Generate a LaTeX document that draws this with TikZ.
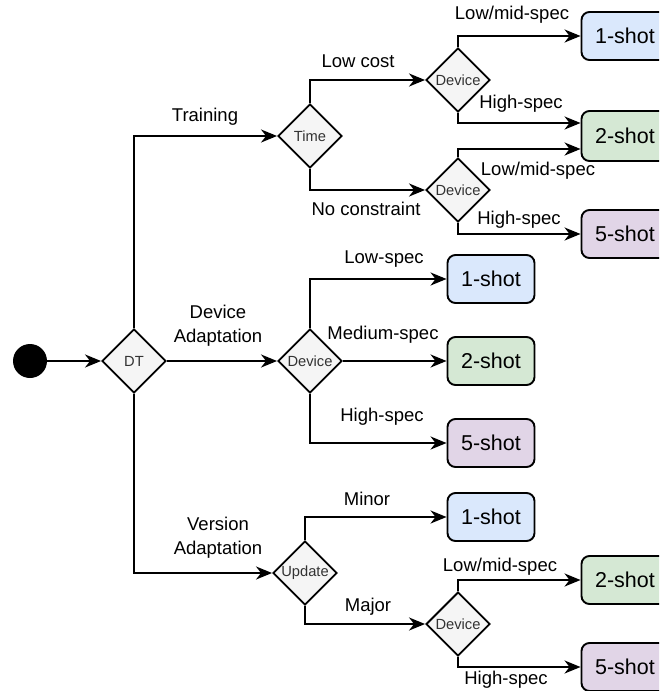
\documentclass[tikz,border=0pt]{standalone}
\usepackage{fontspec}
\setmainfont{Liberation Sans}
\usetikzlibrary{shapes.geometric,arrows.meta}
\definecolor{cblue}{HTML}{DAE8FC}
\definecolor{cgreen}{HTML}{D5E8D4}
\definecolor{cpurple}{HTML}{E1D5E7}
\definecolor{cgray}{HTML}{F5F5F5}
\definecolor{ctext}{HTML}{333333}
\tikzset{
  dia/.style={diamond, draw, fill=cgray, line width=1.9pt, minimum width=64pt, minimum height=64pt, inner sep=0pt, text=ctext, font=\fontsize{14.7}{16}\selectfont},
  shot/.style={rectangle, rounded corners=8pt, draw, line width=1.9pt, minimum width=87pt, minimum height=48pt, inner sep=0pt, font=\fontsize{21.5}{24}\selectfont},
  lab/.style={inner sep=0pt, align=center, font=\fontsize{18.5}{24}\selectfont},
  conn/.style={line width=1.9pt, -{Stealth[length=16pt,width=13pt,inset=5pt]}}
}
\begin{document}
\begin{tikzpicture}[x=1pt,y=-1pt]
\useasboundingbox (0,0) rectangle (659,691);
\clip (0,0) rectangle (659,691);
% nodes
\node[circle, fill=black, minimum size=34pt, inner sep=0pt] (start) at (30,361) {};
\node[dia] (dt) at (134,361) {DT};
\node[dia] (time) at (310,136) {Time};
\node[dia] (devA) at (458,80) {Device};
\node[dia] (devB) at (458,190) {Device};
\node[dia] (devM) at (310,361) {Device};
\node[dia] (upd) at (305,573) {Update};
\node[dia] (devC) at (458,624) {Device};
\node[shot, fill=cblue] (sA1) at (625,36) {1-shot};
\node[shot, fill=cgreen, minimum height=50pt] (sA2) at (625,136) {2-shot};
\node[shot, fill=cpurple] (sA5) at (625,234) {5-shot};
\node[shot, fill=cblue] (m1) at (491,279) {1-shot};
\node[shot, fill=cgreen] (m2) at (491,361) {2-shot};
\node[shot, fill=cpurple] (m5) at (491,443) {5-shot};
\node[shot, fill=cblue] (b1) at (491,517) {1-shot};
\node[shot, fill=cgreen] (b2) at (625,580) {2-shot};
\node[shot, fill=cpurple] (b5) at (625,667) {5-shot};
% connectors
\draw[conn] (start.east) -- (dt.west);
\draw[conn] (dt.north) |- (time.west);
\draw[conn] (dt.east) -- (devM.west);
\draw[conn] (dt.south) |- (upd.west);
\draw[conn] (time.north) |- (devA.west);
\draw[conn] (time.south) |- (devB.west);
\draw[conn] (devA.north) |- (sA1.west);
\draw[conn] (devA.south) |- ([yshift=13pt]sA2.west);
\draw[conn] (devB.north) |- ([yshift=-13pt]sA2.west);
\draw[conn] (devB.south) |- (sA5.west);
\draw[conn] (devM.north) |- (m1.west);
\draw[conn] (devM.east) -- (m2.west);
\draw[conn] (devM.south) |- (m5.west);
\draw[conn] (upd.north) |- (b1.west);
\draw[conn] (upd.south) |- (devC.west);
\draw[conn] (devC.north) |- (b2.west);
\draw[conn] (devC.south) |- (b5.west);
% labels
\node[lab] (lTrain) at (205,117) {Training};
\node[lab] (lDevAd) at (218,326) {Device\\Adaptation};
\node[lab] (lVerAd) at (218,538) {Version\\Adaptation};
\node[lab] (lLowCost) at (358,61) {Low cost};
\node[lab] (lNoCon) at (366,209) {No constraint};
\node[lab] (lA1) at (512,15) {Low/mid-spec};
\node[lab] (lA2) at (521,104) {High-spec};
\node[lab] (lB1) at (538,171) {Low/mid-spec};
\node[lab] (lB2) at (519,220) {High-spec};
\node[lab] (lM1) at (384,259) {Low-spec};
\node[lab] (lM2) at (383,335) {Medium-spec};
\node[lab] (lM3) at (382,417) {High-spec};
\node[lab] (lMinor) at (367,499) {Minor};
\node[lab] (lMajor) at (368,607) {Major};
\node[lab] (lC1) at (500,567) {Low/mid-spec};
\node[lab] (lC2) at (506,680) {High-spec};
\end{tikzpicture}
\end{document}
